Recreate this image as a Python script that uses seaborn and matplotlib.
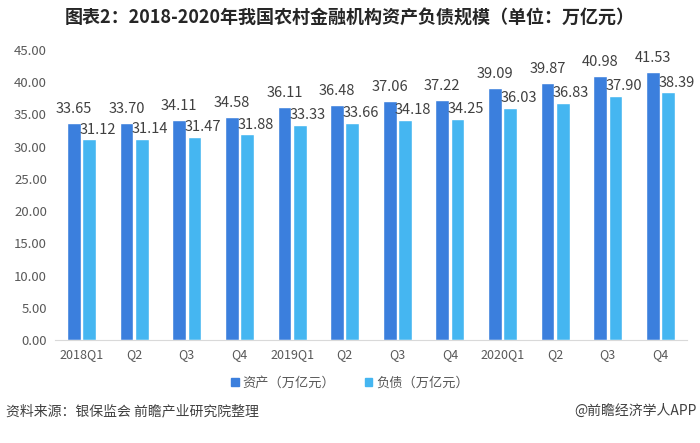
import matplotlib
matplotlib.use("Agg")
import matplotlib.pyplot as plt
import seaborn as sns
import pandas as pd
from matplotlib.patches import Patch

categories = ["2018Q1", "Q2", "Q3", "Q4", "2019Q1", "Q2 ", "Q3 ", "Q4 ", "2020Q1", "Q2  ", "Q3  ", "Q4  "]
assets = [33.65, 33.70, 34.11, 34.58, 36.11, 36.48, 37.06, 37.22, 39.09, 39.87, 40.98, 41.53]
liabilities = [31.12, 31.14, 31.47, 31.88, 33.33, 33.66, 34.18, 34.25, 36.03, 36.83, 37.90, 38.39]
series_names = ["资产（万亿元）", "负债（万亿元）"]
yticks = [0, 5, 10, 15, 20, 25, 30, 35, 40, 45]

sns.set_style("white")
plt.rcParams['font.family'] = ['Noto Sans CJK SC', 'DejaVu Sans']

df = pd.DataFrame({
    "cat": categories * 2,
    "val": assets + liabilities,
    "series": [series_names[0]] * len(categories) + [series_names[1]] * len(categories),
})

fig = plt.figure(figsize=(7, 4.43), dpi=100)
ax = fig.add_axes([0.079, 0.2325, 0.902, 0.655])
palette = {series_names[0]: "#3B7FDD", series_names[1]: "#45B6F1"}
sns.barplot(data=df, x="cat", y="val", hue="series", palette=palette, ax=ax,
            width=0.58, gap=0.1, legend=False, saturation=1)

offsets = [(0, 5), (6, 2)]
for cont, off in zip(ax.containers, offsets):
    anns = ax.bar_label(cont, fmt="%.2f", padding=3, fontsize=10.5, color="#404040")
    for a in anns:
        a.xyann = off

ax.set_ylim(0, 45)
ax.set_xlim(-0.5, 11.5)
ax.set_yticks(yticks)
ax.set_yticklabels([f"{v:.2f}" for v in yticks], fontsize=9.5, color="#595959")
ax.set_xticks(range(len(categories)))
ax.set_xticklabels([c.strip() for c in categories], fontsize=9, color="#595959")
ax.set_xlabel("")
ax.set_ylabel("")
ax.tick_params(axis="both", length=0, pad=6)
for s in ["top", "right", "left"]:
    ax.spines[s].set_visible(False)
ax.spines["bottom"].set_color("#D9D9D9")

fig.text(0.5, 0.962, "图表2：2018-2020年我国农村金融机构资产负债规模（单位：万亿元）",
         ha="center", va="center", fontsize=13, fontweight="bold", color="#262626")

handles = [Patch(color=palette[n], label=n) for n in series_names]
fig.legend(handles=handles, loc="center", bbox_to_anchor=(0.5, 0.135), ncol=2,
           frameon=False, fontsize=9.5, handlelength=0.6, handleheight=0.6,
           handletextpad=0.3, columnspacing=2.2, labelcolor="#595959")

fig.text(0.008, 0.072, "资料来源：银保监会 前瞻产业研究院整理", ha="left", va="center",
         fontsize=10, color="#404040")
fig.text(0.995, 0.072, "@前瞻经济学人APP", ha="right", va="center",
         fontsize=10, color="#404040")

fig.savefig("out.png", dpi=100)
